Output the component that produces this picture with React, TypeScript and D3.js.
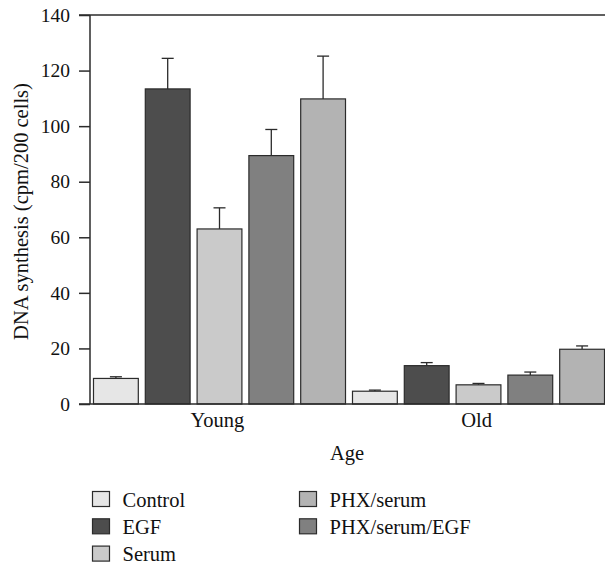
import React, {useEffect, useRef} from 'react';
import * as d3 from 'd3';

// bar order inside each age group (as drawn)
const treatments = ['Control', 'EGF', 'Serum', 'PHX/serum/EGF', 'PHX/serum'];
const treatmentColors = ['#e6e6e6', '#4d4d4d', '#cacaca', '#808080', '#b3b3b3'];
// legend order (two columns)
const legendColumns = [['Control', 'EGF', 'Serum'], ['PHX/serum', 'PHX/serum/EGF']];

const ages = ['Young', 'Old'];
const youngMeans = [9.2, 113.4, 63.0, 89.4, 109.8];
const youngErrors = [0.6, 11.0, 7.6, 9.4, 15.4];
const oldMeans = [4.6, 13.8, 6.9, 10.4, 19.7];
const oldErrors = [0.4, 1.1, 0.5, 1.1, 1.2];

const yTicks = [0, 20, 40, 60, 80, 100, 120, 140];

const width = 605;
const height = 564;
const margin = {top: 15, left: 90, bottom: 160};
const font = '"Liberation Serif", "Times New Roman", serif';
const ink = '#2b2b2b';

const App = () => {
    const ref = useRef(null);

    useEffect(() => {
        const svg = d3.select(ref.current);
        svg.selectAll('*').remove();

        const baseline = height - margin.bottom;

        const y = d3.scaleLinear().domain([0, 140]).range([baseline, margin.top]);
        const x0 = d3.scaleBand().domain(ages).range([margin.left, 608]).padding(0);
        const x1 = d3.scaleBand().domain(treatments).range([0, x0.bandwidth()])
            .paddingInner(0.135).paddingOuter(0.0675);

        const rows = ages.map((age, i) => ({
            age,
            means: i === 0 ? youngMeans : oldMeans,
            errors: i === 0 ? youngErrors : oldErrors
        }));

        const bars = rows.flatMap(r => treatments.map((t, j) => ({
            age: r.age, t, color: treatmentColors[j], mean: r.means[j], err: r.errors[j]
        })));

        // error bars (behind bars)
        const eg = svg.append('g').attr('stroke', ink).attr('stroke-width', 1.3);
        bars.forEach(d => {
            const cx = x0(d.age) + x1(d.t) + x1.bandwidth() / 2;
            eg.append('line').attr('x1', cx).attr('x2', cx).attr('y1', y(d.mean)).attr('y2', y(d.mean + d.err));
            eg.append('line').attr('x1', cx - 6).attr('x2', cx + 6).attr('y1', y(d.mean + d.err)).attr('y2', y(d.mean + d.err));
        });

        svg.append('g').selectAll('rect')
            .data(bars)
            .enter()
            .append('rect')
            .attr('x', d => x0(d.age) + x1(d.t))
            .attr('y', d => y(d.mean))
            .attr('width', x1.bandwidth())
            .attr('height', d => baseline - y(d.mean))
            .attr('fill', d => d.color)
            .attr('stroke', ink)
            .attr('stroke-width', 1.2);

        // frame: top line, baseline, left axis
        const ag = svg.append('g').attr('stroke', ink).attr('stroke-width', 1.5);
        ag.append('line').attr('x1', margin.left - 11).attr('x2', width).attr('y1', y(140)).attr('y2', y(140));
        ag.append('line').attr('x1', margin.left - 11).attr('x2', width).attr('y1', baseline).attr('y2', baseline);
        ag.append('line').attr('x1', margin.left).attr('x2', margin.left).attr('y1', y(140)).attr('y2', baseline);

        const yAxis = d3.axisLeft(y).tickValues(yTicks).tickSize(11).tickSizeOuter(0).tickPadding(9);
        const gy = svg.append('g').attr('transform', `translate(${margin.left},0)`).call(yAxis);
        gy.select('.domain').remove();
        gy.selectAll('.tick line').attr('stroke', ink).attr('stroke-width', 1.5);
        gy.selectAll('.tick text')
            .attr('fill', '#111')
            .style('font-family', font)
            .style('font-size', '19.5px');

        svg.append('text')
            .attr('transform', `translate(28,${(y(140) + baseline) / 2 + 2}) rotate(-90)`)
            .attr('text-anchor', 'middle')
            .style('font-family', font)
            .style('font-size', '20.5px')
            .attr('fill', '#111')
            .text('DNA synthesis (cpm/200 cells)');

        // age labels
        svg.append('g').selectAll('text')
            .data(ages)
            .enter()
            .append('text')
            .attr('x', d => x0(d) + x0.bandwidth() / 2 - 2)
            .attr('y', 427)
            .attr('text-anchor', 'middle')
            .style('font-family', font)
            .style('font-size', '20.5px')
            .attr('fill', '#111')
            .text(d => d);

        svg.append('text')
            .attr('x', 347)
            .attr('y', 460)
            .attr('text-anchor', 'middle')
            .style('font-family', font)
            .style('font-size', '20.5px')
            .attr('fill', '#111')
            .text('Age');

        // legend
        const colX = [92.5, 299.5];
        legendColumns.forEach((col, ci) => {
            col.forEach((name, ri) => {
                const top = 491.5 + ri * 27.3;
                const g = svg.append('g');
                g.append('rect')
                    .attr('x', colX[ci]).attr('y', top)
                    .attr('width', 17).attr('height', 15)
                    .attr('fill', treatmentColors[treatments.indexOf(name)])
                    .attr('stroke', ink).attr('stroke-width', 1.2);
                g.append('text')
                    .attr('x', colX[ci] + 30)
                    .attr('y', top + 15)
                    .style('font-family', font)
                    .style('font-size', '20.5px')
                    .attr('fill', '#111')
                    .text(name);
            });
        });
    }, []);

    return (
        <svg ref={ref} width={width} height={height}
             style={{position: 'absolute', left: 0, top: 0, background: '#fff'}}/>
    );
};

export default App;
